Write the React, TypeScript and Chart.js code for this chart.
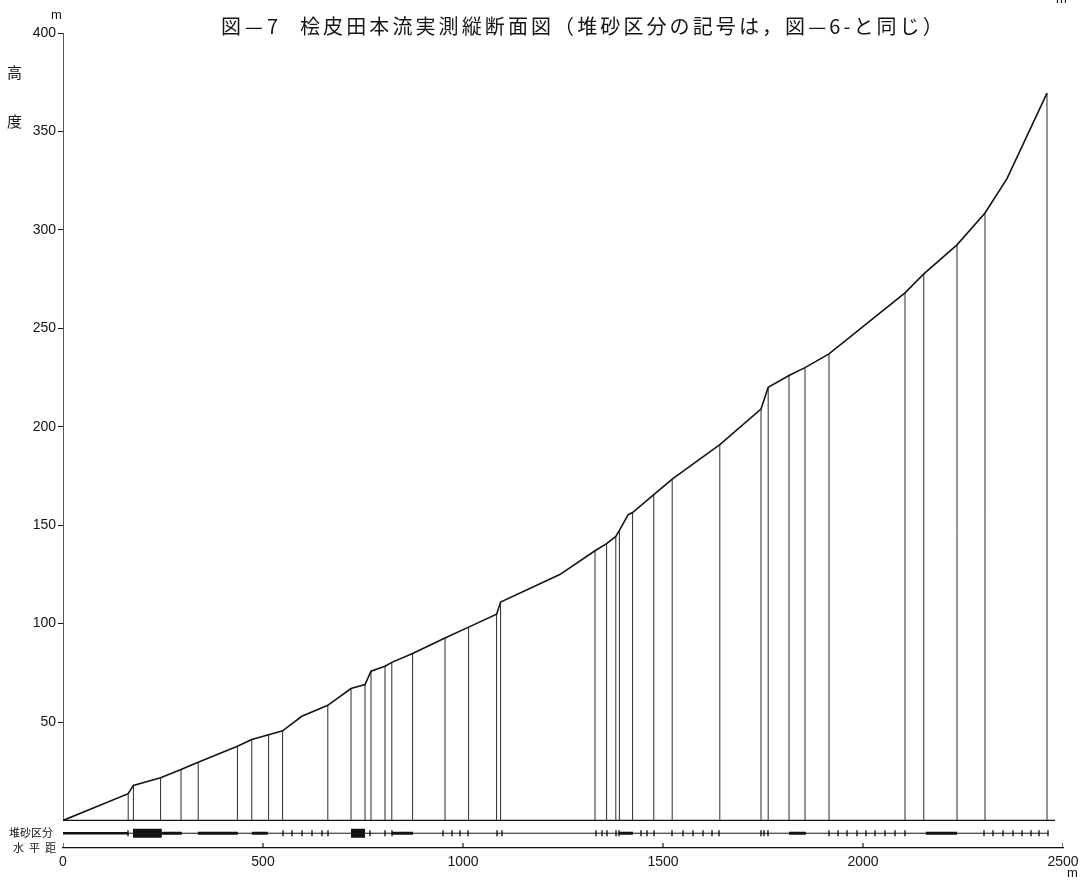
import React, { useEffect, useRef } from "react";
import { Chart, registerables } from "chart.js";

Chart.register(...registerables);

// Survey stations (horizontal distance m, elevation m) that carry a drop line
const stationX = [163, 176, 244, 295, 338, 436, 472, 514, 549, 662, 720, 755, 770, 805, 822, 874, 955, 1014, 1084, 1094, 1330, 1359, 1382, 1391, 1424, 1477, 1523, 1642, 1745, 1763, 1815, 1855, 1915, 2105, 2152, 2235, 2305, 2460];
const stationY = [13.6, 17.8, 21.7, 25.9, 29.6, 37.7, 41.1, 43.5, 45.5, 58.5, 67, 69, 75.8, 78.3, 80.3, 84.8, 92.7, 98.2, 104.8, 110.9, 137, 140.6, 144.3, 147.3, 156.4, 165.5, 173.4, 190.9, 209, 220, 226, 230, 237, 268, 277.6, 292.4, 308.6, 369.5];

// Break points of the profile without drop lines
const kinkX = [0, 597, 1242, 1413, 2360];
const kinkY = [0, 52.9, 124.9, 155.3, 326];

// Ground baseline
const baselineSpan = [0, 2480];

// Sediment classification band (堆砂区分)
const bandSpan = [0, 2462];
const bandMediumFrom = [247, 337, 472, 822, 1390, 1815, 2157];
const bandMediumTo = [297, 437, 512, 875, 1425, 1857, 2235];
const bandFirstFrom = [0];
const bandFirstTo = [163];
const bandBoxFrom = [175, 720];
const bandBoxTo = [247, 755];
const bandTickX = [162.5, 550, 572.5, 597.5, 622.5, 647.5, 662.5, 767.5, 805, 822.5, 950, 972.5, 992.5, 1012.5, 1085, 1097.5, 1332.5, 1347.5, 1360, 1382.5, 1390, 1445, 1460, 1477.5, 1522.5, 1550, 1575, 1600, 1622.5, 1640, 1745, 1752.5, 1762.5, 1915, 1937.5, 1960, 1985, 2007.5, 2030, 2055, 2080, 2105, 2302.5, 2325, 2350, 2375, 2397.5, 2420, 2440, 2462.5];

// Axes
const yTicks = [50, 100, 150, 200, 250, 300, 350, 400];
const xTicks = [0, 500, 1000, 1500, 2000, 2500];

const Y_MIN = -14;
const BAND_Y = -6.5;
const AXIS_Y = -14;

type P = { x: number; y: number | null };

function spans(from: number[], to: number[], y: number): P[] {
  const out: P[] = [];
  from.forEach((f, i) => {
    out.push({ x: f, y }, { x: to[i], y }, { x: to[i], y: null });
  });
  return out;
}

function verticals(xs: number[], y0: number[] | number, y1: number[] | number): P[] {
  const out: P[] = [];
  xs.forEach((x, i) => {
    const a = Array.isArray(y0) ? y0[i] : y0;
    const b = Array.isArray(y1) ? y1[i] : y1;
    out.push({ x, y: a }, { x, y: b }, { x, y: null });
  });
  return out;
}

export default function App() {
  const ref = useRef<HTMLCanvasElement | null>(null);

  useEffect(() => {
    if (!ref.current) return;
    const profile: P[] = [
      ...stationX.map((x, i) => ({ x, y: stationY[i] })),
      ...kinkX.map((x, i) => ({ x, y: kinkY[i] })),
    ].sort((a, b) => a.x - b.x);

    const ink = "#141414";
    const base = {
      type: "line" as const,
      pointRadius: 0,
      tension: 0,
      spanGaps: false,
      fill: false,
      borderColor: ink,
    };

    const chart = new Chart(ref.current, {
      type: "line",
      data: {
        datasets: [
          { ...base, label: "profile", data: profile, borderWidth: 1.6 },
          { ...base, label: "drops", data: verticals(stationX, 0, stationY), borderWidth: 1, borderColor: "#2a2a2a" },
          { ...base, label: "baseline", data: spans([baselineSpan[0]], [baselineSpan[1]], 0), borderWidth: 1.2 },
          { ...base, label: "yaxis", data: [{ x: 0, y: 0 }, { x: 0, y: 400 }], borderWidth: 1.4 },
          { ...base, label: "band", data: spans([bandSpan[0]], [bandSpan[1]], BAND_Y), borderWidth: 1 },
          { ...base, label: "bandFirst", data: spans(bandFirstFrom, bandFirstTo, BAND_Y), borderWidth: 2.5, borderCapStyle: "butt" },
          { ...base, label: "bandMedium", data: spans(bandMediumFrom, bandMediumTo, BAND_Y), borderWidth: 3, borderCapStyle: "butt" },
          { ...base, label: "bandBox", data: spans(bandBoxFrom, bandBoxTo, BAND_Y), borderWidth: 9, borderCapStyle: "butt" },
          {
            type: "scatter",
            label: "bandTicks",
            data: bandTickX.map((x) => ({ x, y: BAND_Y })),
            pointStyle: "line",
            rotation: 90,
            radius: 3,
            borderWidth: 1.4,
            borderColor: ink,
            backgroundColor: ink,
          },
          { ...base, label: "xTickMarks", data: verticals(xTicks, AXIS_Y, AXIS_Y + 2.6), borderWidth: 1.2 },
        ] as any,
      },
      options: {
        animation: false,
        responsive: false,
        maintainAspectRatio: false,
        events: [],
        layout: { padding: { top: 33, right: 26, left: 0, bottom: 0 } },
        plugins: {
          legend: { display: false },
          tooltip: { enabled: false },
          title: { display: false },
        },
        scales: {
          x: {
            type: "linear",
            min: 0,
            max: 2500,
            afterBuildTicks: (s: any) => {
              s.ticks = xTicks.map((v) => ({ value: v }));
            },
            afterFit: (s: any) => {
              s.height = 34;
            },
            grid: { display: false, drawTicks: false },
            border: { display: true, color: ink, width: 1.2 },
            ticks: {
              color: ink,
              font: { family: "Liberation Sans", size: 14 },
              padding: 6,
              maxRotation: 0,
              autoSkip: false,
              callback: (v: any) => String(v),
            },
          },
          y: {
            type: "linear",
            min: Y_MIN,
            max: 400,
            afterBuildTicks: (s: any) => {
              s.ticks = yTicks.map((v) => ({ value: v }));
            },
            afterFit: (s: any) => {
              s.width = 63;
            },
            grid: { display: true, drawOnChartArea: false, drawTicks: true, tickLength: 5, color: ink, lineWidth: 1 },
            border: { display: false },
            ticks: {
              color: ink,
              font: { family: "Liberation Sans", size: 14 },
              padding: 2,
              autoSkip: false,
              callback: (v: any) => String(v),
            },
          },
        },
      },
    });
    return () => chart.destroy();
  }, []);

  const txt: React.CSSProperties = { position: "absolute", color: "#141414", whiteSpace: "nowrap", lineHeight: 1 };
  const cjk = '"Noto Sans CJK JP", sans-serif';
  const sans = '"Liberation Sans", sans-serif';

  return (
    <div style={{ position: "absolute", left: 0, top: 0, width: 1089, height: 882, background: "#fff", overflow: "hidden" }}>
      <canvas ref={ref} width={1089} height={882} style={{ position: "absolute", left: 0, top: 0 }} />
      <div style={{ ...txt, left: 221, top: 16, fontFamily: cjk, fontSize: 20, letterSpacing: 4 }}>図—7</div>
      <div style={{ ...txt, left: 300, top: 16, fontFamily: cjk, fontSize: 20, letterSpacing: 3.1 }}>
        桧皮田本流実測縦断面図（堆砂区分の記号は，図—6-と同じ）
      </div>
      <div style={{ ...txt, left: 51, top: 8, fontFamily: sans, fontSize: 13 }}>m</div>
      <div style={{ ...txt, left: 1056, top: -8, fontFamily: sans, fontSize: 13 }}>m</div>
      <div style={{ ...txt, left: 7, top: 64, fontFamily: cjk, fontSize: 15 }}>高</div>
      <div style={{ ...txt, left: 7, top: 113, fontFamily: cjk, fontSize: 15 }}>度</div>
      <div style={{ ...txt, left: 9, top: 827, fontFamily: cjk, fontSize: 11 }}>堆砂区分</div>
      <div style={{ ...txt, left: 13, top: 842, fontFamily: cjk, fontSize: 11, letterSpacing: 5 }}>水平距</div>
      <div style={{ ...txt, left: 1067, top: 866, fontFamily: sans, fontSize: 13 }}>m</div>
    </div>
  );
}
